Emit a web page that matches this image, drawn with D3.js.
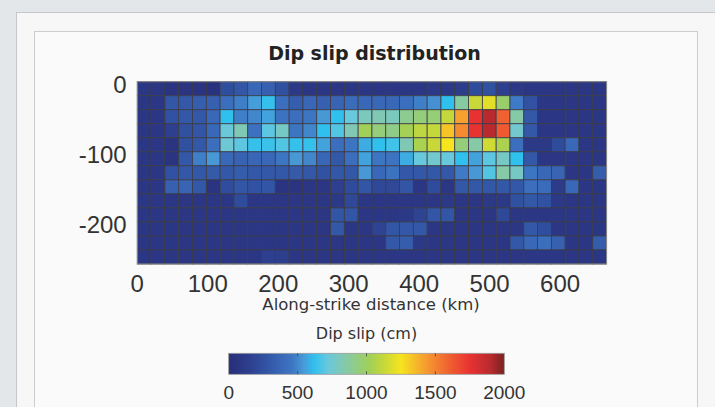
<!DOCTYPE html>
<html>
<head>
<meta charset="utf-8">
<script src="https://cdn.jsdelivr.net/npm/d3@7"></script>
<style>
  html, body { margin: 0; padding: 0; background: #f7f7f7; }
  svg { display: block; }
</style>
</head>
<body>
<svg id="chart" width="715" height="407"></svg>
<script>
// fault plane: along-strike extent and down-dip extent (km)
const strikeLengthKm = 666;
const dipWidthKm = 259;

// dip slip per subfault (cm); rows go from the top edge (0 km) downwards, 34 patches along strike
const dipSlipCm = [
  [80, 80, 60, 60, 60, 40, 240, 290, 380, 340, 250, 100, 80, 80, 80, 80, 80, 80, 80, 80, 80, 100, 100, 130, 220, 250, 150, 100, 80, 80, 80, 80, 80, 80],
  [80, 80, 290, 300, 330, 340, 420, 480, 550, 630, 420, 330, 370, 340, 360, 400, 380, 380, 380, 420, 480, 520, 620, 860, 1130, 1200, 980, 470, 260, 80, 80, 80, 80, 80],
  [80, 80, 260, 300, 300, 380, 620, 480, 500, 560, 440, 420, 460, 540, 620, 720, 800, 820, 800, 900, 950, 960, 1120, 1420, 1750, 1900, 1600, 850, 300, 80, 80, 80, 80, 80],
  [80, 80, 150, 250, 280, 380, 730, 820, 430, 700, 780, 460, 500, 620, 680, 820, 1020, 950, 920, 1030, 1100, 1120, 1330, 1480, 1750, 1900, 1620, 760, 300, 80, 80, 80, 80, 80],
  [80, 80, 60, 250, 300, 420, 740, 700, 630, 640, 680, 630, 630, 560, 420, 460, 580, 620, 650, 820, 1050, 1130, 1250, 950, 850, 1150, 1050, 420, 100, 100, 220, 380, 80, 80],
  [80, 80, 60, 300, 480, 540, 380, 350, 370, 380, 460, 540, 500, 370, 300, 420, 560, 460, 450, 580, 720, 760, 720, 620, 560, 700, 780, 620, 300, 80, 80, 80, 80, 80],
  [80, 80, 260, 300, 300, 310, 300, 320, 300, 300, 300, 310, 300, 260, 300, 300, 540, 380, 440, 300, 300, 300, 300, 470, 540, 680, 850, 780, 460, 380, 360, 80, 80, 320],
  [80, 80, 340, 360, 300, 60, 230, 290, 260, 280, 60, 60, 80, 80, 150, 220, 280, 200, 200, 280, 80, 220, 80, 300, 300, 300, 300, 300, 420, 400, 120, 380, 80, 80],
  [80, 80, 80, 80, 80, 80, 80, 220, 80, 80, 80, 80, 80, 80, 100, 200, 80, 80, 80, 80, 80, 80, 100, 80, 80, 100, 100, 250, 300, 260, 100, 80, 80, 80],
  [80, 80, 80, 80, 80, 80, 80, 80, 80, 80, 80, 80, 80, 80, 280, 280, 80, 80, 80, 100, 180, 280, 280, 80, 80, 80, 200, 80, 80, 80, 80, 80, 80, 80],
  [80, 80, 80, 80, 80, 80, 80, 80, 80, 80, 80, 80, 80, 80, 300, 80, 80, 180, 280, 300, 300, 80, 80, 80, 80, 80, 80, 80, 300, 240, 80, 80, 80, 80],
  [80, 80, 80, 80, 80, 80, 80, 80, 80, 80, 80, 80, 80, 80, 80, 80, 80, 80, 300, 320, 100, 80, 80, 80, 80, 80, 80, 300, 380, 420, 340, 80, 80, 320],
  [80, 80, 80, 80, 80, 80, 80, 80, 80, 150, 140, 80, 80, 80, 80, 80, 80, 80, 80, 80, 80, 80, 80, 80, 80, 80, 80, 80, 80, 80, 80, 80, 80, 80]
];

const xTicks = [0, 100, 200, 300, 400, 500, 600];
const yTicks = [0, -100, -200];
const slipTicks = [0, 500, 1000, 1500, 2000];

// jet-like colour map used by the figure
const cmapStops = [0, 150, 250, 300, 380, 460, 540, 620, 720, 820, 920, 1020, 1130, 1250, 1420, 1600, 1750, 1900, 2000];
const cmapColours = ['#282d78', '#2d3f8e', '#3050a0', '#3458a8', '#3a68b8', '#3c76c2', '#4898d6', '#30c0ee', '#68c8dc', '#80c8b4',
  '#90cc88', '#a0d058', '#c8d838', '#f6e41e', '#f6a030', '#f06030', '#e83232', '#b82a2e', '#782222'];

const svg = d3.select('#chart');
const colour = d3.scaleLinear().domain(cmapStops).range(cmapColours).clamp(true);

// page chrome
svg.append('rect').attr('width', 715).attr('height', 407).attr('fill', '#f7f7f7');
svg.append('rect').attr('width', 715).attr('height', 12).attr('fill', '#e4e7ea');
svg.append('rect').attr('width', 16).attr('height', 407).attr('fill', '#e4e7ea');
svg.append('line').attr('x1', 16).attr('x2', 715).attr('y1', 12.5).attr('y2', 12.5).attr('stroke', '#c4c8cc');
svg.append('line').attr('x1', 16.5).attr('x2', 16.5).attr('y1', 12).attr('y2', 407).attr('stroke', '#c4c8cc');
svg.append('rect').attr('x', 34.5).attr('y', 31.5).attr('width', 663).attr('height', 400)
  .attr('fill', '#fafafa').attr('stroke', '#cdcdcd');

const plot = { left: 137.3, top: 81.7, width: 469.3, height: 182.3 };
const x = d3.scaleLinear().domain([0, strikeLengthKm]).range([plot.left, plot.left + plot.width]);
const y = d3.scaleLinear().domain([-dipWidthKm, 0]).range([plot.top + plot.height, plot.top]);

const nRows = dipSlipCm.length;
const nCols = dipSlipCm[0].length;
const dx = strikeLengthKm / nCols;
const dz = dipWidthKm / nRows;

const cells = [];
dipSlipCm.forEach((row, r) => row.forEach((v, c) => cells.push({ r, c, v })));

svg.append('g')
  .selectAll('rect')
  .data(cells)
  .enter()
  .append('rect')
  .attr('x', d => x(d.c * dx))
  .attr('y', d => y(-d.r * dz))
  .attr('width', d => x((d.c + 1) * dx) - x(d.c * dx))
  .attr('height', d => y(-(d.r + 1) * dz) - y(-d.r * dz))
  .attr('fill', d => colour(d.v))
  .attr('stroke', '#3b3b48')
  .attr('stroke-width', 0.8);

svg.append('rect')
  .attr('x', plot.left).attr('y', plot.top)
  .attr('width', plot.width).attr('height', plot.height)
  .attr('fill', 'none').attr('stroke', '#8c8c8c').attr('stroke-width', 1);

const tickFont = '"Liberation Sans", Arial, sans-serif';

svg.append('g')
  .selectAll('text')
  .data(xTicks)
  .enter()
  .append('text')
  .attr('x', d => x(d))
  .attr('y', plot.top + plot.height + 28.3)
  .attr('text-anchor', 'middle')
  .style('font-family', tickFont).style('font-size', '24px').attr('fill', '#333')
  .text(d => d);

svg.append('g')
  .selectAll('text')
  .data(yTicks)
  .enter()
  .append('text')
  .attr('x', plot.left - 10.6)
  .attr('y', d => y(d) + 11)
  .attr('text-anchor', 'end')
  .style('font-family', tickFont).style('font-size', '24px').attr('fill', '#333')
  .text(d => d);

const labelFont = '"DejaVu Sans", Verdana, sans-serif';

svg.append('text')
  .attr('x', 374.5).attr('y', 60)
  .attr('text-anchor', 'middle')
  .style('font-family', labelFont).style('font-size', '19px').style('font-weight', 'bold')
  .attr('fill', '#222')
  .text('Dip slip distribution');

svg.append('text')
  .attr('x', 371).attr('y', 310)
  .attr('text-anchor', 'middle')
  .style('font-family', labelFont).style('font-size', '16.5px').attr('fill', '#333')
  .text('Along-strike distance (km)');

svg.append('text')
  .attr('x', 366.5).attr('y', 339)
  .attr('text-anchor', 'middle')
  .style('font-family', labelFont).style('font-size', '16px').attr('fill', '#333')
  .text('Dip slip (cm)');

// colour bar
const cb = { left: 228.7, top: 353.3, width: 275.6, height: 21 };
const cbx = d3.scaleLinear().domain([0, 2000]).range([cb.left, cb.left + cb.width]);

const grad = svg.append('defs').append('linearGradient').attr('id', 'slipGrad');
grad.selectAll('stop')
  .data(cmapStops)
  .enter()
  .append('stop')
  .attr('offset', d => (d / 2000 * 100) + '%')
  .attr('stop-color', d => colour(d));

svg.append('rect')
  .attr('x', cb.left).attr('y', cb.top).attr('width', cb.width).attr('height', cb.height)
  .attr('fill', 'url(#slipGrad)').attr('stroke', '#9a9a9a').attr('stroke-width', 0.8);

const cbTicks = svg.append('g');
slipTicks.slice(1, -1).forEach(t => {
  cbTicks.append('line').attr('x1', cbx(t)).attr('x2', cbx(t)).attr('y1', cb.top).attr('y2', cb.top + 3)
    .attr('stroke', '#444').attr('stroke-width', 0.8);
  cbTicks.append('line').attr('x1', cbx(t)).attr('x2', cbx(t)).attr('y1', cb.top + cb.height - 3).attr('y2', cb.top + cb.height)
    .attr('stroke', '#444').attr('stroke-width', 0.8);
});

svg.append('g')
  .selectAll('text')
  .data(slipTicks)
  .enter()
  .append('text')
  .attr('x', d => cbx(d))
  .attr('y', 398.5)
  .attr('text-anchor', 'middle')
  .style('font-family', tickFont).style('font-size', '19px').attr('fill', '#333')
  .text(d => d);
</script>
</body>
</html>
